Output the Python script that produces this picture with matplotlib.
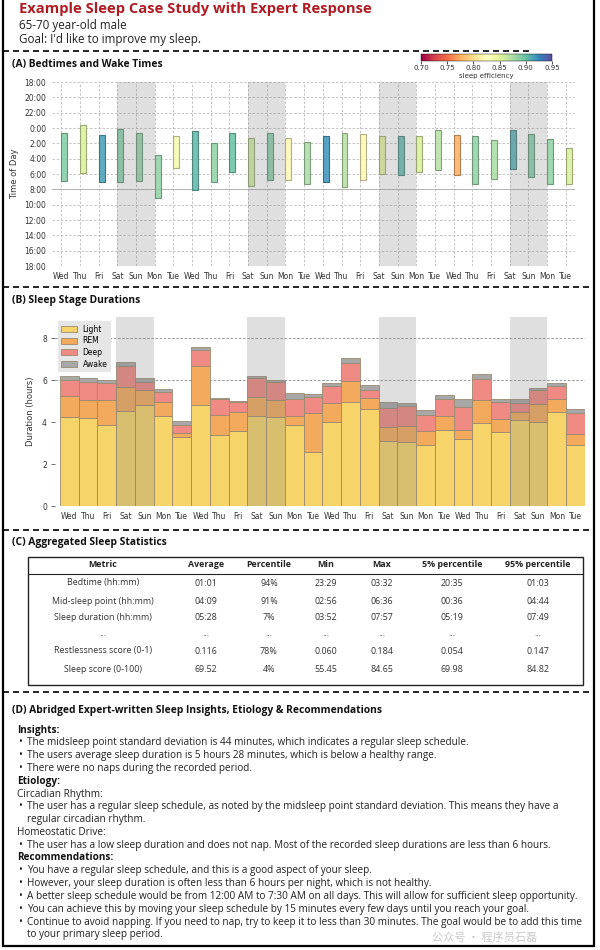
import matplotlib
matplotlib.use("Agg")
import matplotlib.pyplot as plt
from matplotlib.colors import Normalize, to_rgb
from matplotlib.cm import ScalarMappable
from matplotlib.patches import Patch, Rectangle

W, H = 600, 950

# ---- data -----------------------------------------------------------------
days = ["Wed", "Thu", "Fri", "Sat", "Sun", "Mon", "Tue"] * 4
weekend_starts = [3, 10, 17, 24]

# bed / wake times in hours after midnight (negative = before midnight)
bedtime = [0.61, -0.35, 0.95, 0.09, 0.70, 3.50, 1.08, 0.39, 1.90, 0.65, 1.30, 0.70, 1.35, 1.87,
           1.08, 0.61, 0.82, 1.04, 1.08, 1.08, 0.22, 0.95, 1.00, 1.56, 0.22, 0.74, 1.43, 2.56]
waketime = [6.90, 5.86, 7.00, 7.07, 6.90, 9.16, 5.25, 8.03, 7.07, 5.70, 7.55, 6.80, 6.77, 7.25,
            7.00, 7.68, 6.73, 6.03, 6.08, 5.73, 5.51, 6.08, 7.29, 6.68, 5.34, 6.38, 7.29, 7.25]
efficiency = [0.89, 0.855, 0.915, 0.89, 0.885, 0.885, 0.835, 0.905, 0.885, 0.90, 0.86, 0.89, 0.82, 0.875,
              0.92, 0.87, 0.82, 0.85, 0.905, 0.855, 0.87, 0.775, 0.885, 0.875, 0.91, 0.89, 0.885, 0.855]

# sleep stage durations (hours)
light = [4.22, 4.21, 3.87, 4.52, 4.83, 4.29, 3.27, 4.83, 3.37, 3.59, 4.29, 4.25, 3.87, 2.59,
         4.02, 4.97, 4.63, 3.11, 3.06, 2.89, 3.63, 3.17, 3.94, 3.52, 4.08, 3.98, 4.49, 2.89]
rem = [1.02, 0.85, 1.18, 1.15, 0.68, 0.66, 0.19, 1.82, 0.98, 0.89, 0.90, 0.81, 0.42, 1.82,
       0.90, 0.98, 0.53, 0.65, 0.77, 0.70, 0.66, 0.46, 1.09, 0.64, 0.41, 0.89, 0.59, 0.55]
deep = [0.78, 0.86, 0.82, 1.01, 0.38, 0.48, 0.38, 0.76, 0.73, 0.46, 0.92, 0.86, 0.82, 0.76,
        0.79, 0.88, 0.36, 0.91, 0.93, 0.76, 0.82, 1.10, 1.03, 0.79, 0.41, 0.65, 0.65, 0.97]
awake = [0.15, 0.18, 0.13, 0.16, 0.21, 0.13, 0.19, 0.16, 0.05, 0.08, 0.10, 0.06, 0.26, 0.16,
         0.15, 0.20, 0.26, 0.27, 0.13, 0.21, 0.16, 0.35, 0.21, 0.15, 0.18, 0.11, 0.11, 0.19]
stage_names = ["Light", "REM", "Deep", "Awake"]
stage_colors = ["#f6d46a", "#f3aa5c", "#f08a84", "#a8a8a8"]

table_header = ["Metric", "Average", "Percentile", "Min", "Max", "5% percentile", "95% percentile"]
table_rows = [
    ["Bedtime (hh:mm)", "01:01", "94%", "23:29", "03:32", "20:35", "01:03"],
    ["Mid-sleep point (hh:mm)", "04:09", "91%", "02:56", "06:36", "00:36", "04:44"],
    ["Sleep duration (hh:mm)", "05:28", "7%", "03:52", "07:57", "05:19", "07:49"],
    ["...", "...", "...", "...", "...", "...", "..."],
    ["Restlessness score (0-1)", "0.116", "78%", "0.060", "0.184", "0.054", "0.147"],
    ["Sleep score (0-100)", "69.52", "4%", "55.45", "84.65", "69.98", "84.82"],
]

# (style, text): h = bold heading, p = plain, b = bullet, c = bullet continuation
notes = [
    ("h", "Insights:"),
    ("b", "The midsleep point standard deviation is 44 minutes, which indicates a regular sleep schedule."),
    ("b", "The users average sleep duration is 5 hours 28 minutes, which is below a healthy range."),
    ("b", "There were no naps during the recorded period."),
    ("h", "Etiology:"),
    ("p", "Circadian Rhythm:"),
    ("b", "The user has a regular sleep schedule, as noted by the midsleep point standard deviation. This means they have a"),
    ("c", "regular circadian rhythm."),
    ("p", "Homeostatic Drive:"),
    ("b", "The user has a low sleep duration and does not nap. Most of the recorded sleep durations are less than 6 hours."),
    ("h", "Recommendations:"),
    ("b", "You have a regular sleep schedule, and this is a good aspect of your sleep."),
    ("b", "However, your sleep duration is often less than 6 hours per night, which is not healthy."),
    ("b", "A better sleep schedule would be from 12:00 AM to 7:30 AM on all days. This will allow for sufficient sleep opportunity."),
    ("b", "You can achieve this by moving your sleep schedule by 15 minutes every few days until you reach your goal."),
    ("b", "Continue to avoid napping. If you need to nap, try to keep it to less than 30 minutes. The goal would be to add this time"),
    ("c", "to your primary sleep period."),
]

SANS = "Open Sans"


def box(x0, y0, x1, y1):
    # pixel box (top-left origin) -> figure fraction rect
    return [x0 / W, 1 - y1 / H, (x1 - x0) / W, (y1 - y0) / H]


fig = plt.figure(figsize=(6, 9.5), dpi=100)

# background axes in pixel coordinates for frame, separators, text and table
bg = fig.add_axes([0, 0, 1, 1])
bg.set_xlim(0, W)
bg.set_ylim(H, 0)
bg.axis("off")

bg.add_patch(Rectangle((3, -5), 591, 951, fill=False, ec="black", lw=1.6))
dash = (0, (3.6, 2.4))
bg.plot([3, 530], [51, 51], color="black", lw=1.2, ls=dash)
for yy in [287, 530, 692]:
    bg.plot([3, 594], [yy, yy], color="black", lw=1.2, ls=dash)

bg.text(19, 9, "Example Sleep Case Study with Expert Response", fontsize=10.6,
        fontweight="bold", color="#b01c24", family=SANS, va="center")
bg.text(19, 25, "65-70 year-old male", fontsize=8.4, family=SANS, va="center", color="#222")
bg.text(19, 40, "Goal: I'd like to improve my sleep.", fontsize=8.4, family=SANS, va="center", color="#222")

panel_titles = [(64, "(A) Bedtimes and Wake Times"), (301, "(B) Sleep Stage Durations"),
                (543, "(C) Aggregated Sleep Statistics"),
                (710, "(D) Abridged Expert-written Sleep Insights, Etiology & Recommendations")]
for yy, t in panel_titles:
    bg.text(12, yy, t, fontsize=7.4, fontweight="bold", family=SANS, va="center", color="#111")

x = list(range(len(days)))

# ---- (A) bedtimes ---------------------------------------------------------
cmap = plt.get_cmap("Spectral")
norm = Normalize(0.70, 0.95)
axA = fig.add_axes(box(52, 82, 575, 266))
for s in weekend_starts:
    axA.axvspan(s, s + 2, color="#808080", alpha=0.25, lw=0, zorder=3)
face = [cmap(norm(e)) for e in efficiency]
edge = [tuple(c * 0.65 for c in to_rgb(f)) for f in face]
axA.bar(x, [w - b for w, b in zip(waketime, bedtime)], bottom=bedtime, width=0.32,
        align="edge", color=face, edgecolor=edge, linewidth=0.8, alpha=0.85, zorder=2)
axA.set_xlim(-0.5, 27.5)
axA.set_ylim(18, -6)
hours = list(range(-6, 19, 2))
axA.set_yticks(hours)
axA.set_yticklabels([f"{h % 24}:00" for h in hours])
axA.set_xticks(x)
axA.set_xticklabels(days)
axA.grid(True, ls=(0, (3, 2)), color="#bbbbbb", lw=0.6, zorder=0)
axA.axhline(8, color="#aaaaaa", lw=0.7, zorder=1)
axA.tick_params(length=0, labelsize=5.5, labelcolor="#333", pad=4)
for sp in axA.spines.values():
    sp.set_visible(False)
axA.set_ylabel("Time of Day", fontsize=6, color="#333", labelpad=4)

cax = fig.add_axes(box(421, 54, 552, 61))
cb = fig.colorbar(ScalarMappable(norm=norm, cmap=cmap), cax=cax, orientation="horizontal")
cb.set_ticks([0.70, 0.75, 0.80, 0.85, 0.90, 0.95])
cb.ax.tick_params(labelsize=5, length=2, width=0.5, pad=1, labelcolor="#333")
cb.outline.set_linewidth(0.3)
cb.set_label("sleep efficiency", fontsize=5, labelpad=1, color="#333")

# ---- (B) stage durations ------------------------------------------------
axB = fig.add_axes(box(55.3, 317, 585, 506))
bottom = [0.0] * len(days)
for name, vals, col in zip(stage_names, [light, rem, deep, awake], stage_colors):
    axB.bar(x, vals, bottom=bottom, width=1.0, color=col, edgecolor="#9a8a70",
            linewidth=0.6, label=name, zorder=2)
    bottom = [b + v for b, v in zip(bottom, vals)]
for s in weekend_starts:
    axB.axvspan(s - 0.5, s + 1.5, color="#808080", alpha=0.25, lw=0, zorder=3)
for yy in [6, 8]:
    axB.axhline(yy, color="#888888", lw=0.6, ls=(0, (3, 2)), zorder=1)
axB.set_xlim(-0.75, 27.5)
axB.set_ylim(0, 9)
axB.set_yticks([0, 2, 4, 6, 8])
axB.set_xticks(x)
axB.set_xticklabels(days)
axB.tick_params(axis="y", length=3, width=0.6, color="#555", labelsize=5.5, labelcolor="#333", pad=3)
axB.tick_params(axis="x", length=0, labelsize=5.5, labelcolor="#333", pad=4)
for sp in axB.spines.values():
    sp.set_visible(False)
axB.set_ylabel("Duration (hours)", fontsize=6, color="#333", labelpad=5)
handles = [Patch(facecolor=c, edgecolor="#9a8a70", lw=0.6, label=n) for n, c in zip(stage_names, stage_colors)]
leg = axB.legend(handles=handles, loc="upper left", bbox_to_anchor=(-0.003, 1.0), fontsize=5.5,
                 facecolor="#e6e6e6", edgecolor="none", framealpha=1, handlelength=2.0,
                 handleheight=0.8, labelspacing=0.35, borderpad=0.5, fancybox=False)
leg.set_zorder(5)

# ---- (C) table ------------------------------------------------------------
bg.add_patch(Rectangle((28, 557), 555, 128, fill=False, ec="#222", lw=1.0))
bg.plot([28, 583], [574, 574], color="#222", lw=0.8)
col_x = [103, 206, 269, 326, 382, 452, 538]
row_y = [583, 601, 618, 634, 651, 669]
for cx, t in zip(col_x, table_header):
    bg.text(cx, 564.5, t, fontsize=6.4, fontweight="bold", family=SANS, ha="center", va="center", color="#222")
for ry, row in zip(row_y, table_rows):
    for cx, t in zip(col_x, row):
        bg.text(cx, ry, t, fontsize=6.4, family=SANS, ha="center", va="center", color="#333")

# ---- (D) notes -------------------------------------------------------------
for i, (kind, t) in enumerate(notes):
    yy = 730 + 12.8 * i
    if kind == "h":
        bg.text(17, yy, t, fontsize=7.2, fontweight="bold", family=SANS, va="center", color="#111")
    elif kind == "p":
        bg.text(17, yy, t, fontsize=7.2, family=SANS, va="center", color="#222")
    else:
        if kind == "b":
            bg.text(18.5, yy, "\u2022", fontsize=7.5, family=SANS, va="center", color="#222")
        bg.text(27, yy, t, fontsize=7.2, family=SANS, va="center", color="#222")

bg.text(432, 938, "公众号 · 程序员石磊", fontsize=8, family=["Noto Sans CJK SC", "DejaVu Sans"],
        va="center", color="#888888", alpha=0.45)

fig.savefig("out.png", dpi=100)
